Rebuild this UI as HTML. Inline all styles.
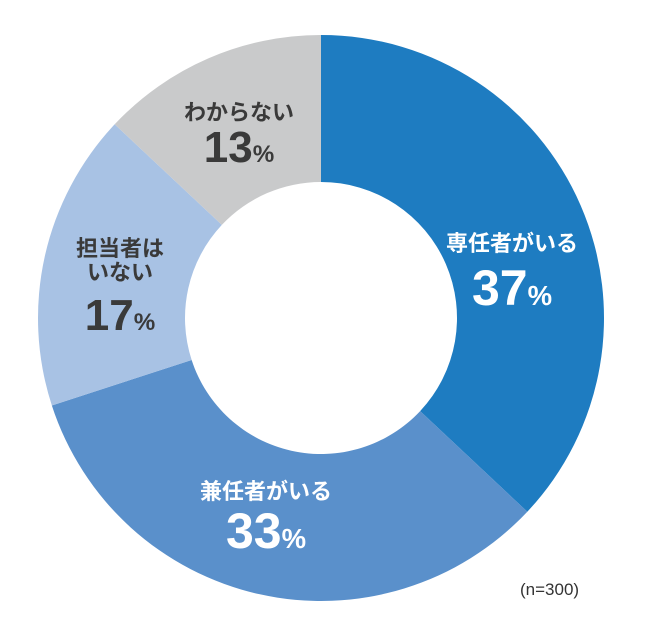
<!DOCTYPE html>
<html><head><meta charset="utf-8"><style>
body{margin:0;background:#fff;width:650px;height:635px;overflow:hidden}
text{font-family:"Liberation Sans","Noto Sans CJK JP",sans-serif;font-weight:bold}
</style></head><body>
<svg id="chart" width="650" height="635" viewBox="0 0 650 635"></svg>
<script>
const categories=["専任者がいる","兼任者がいる","担当者はいない","わからない"];
const values=[37,33,17,13];
const colors=["#1e7cc1","#5a90cb","#a8c2e4","#c9cacb"];
const cx=321,cy=318,R=283,r=136;
const svg=document.getElementById('chart');
const NS="http://www.w3.org/2000/svg";
const total=values.reduce((a,b)=>a+b,0);
function pt(a,rad){return [cx+rad*Math.sin(a),cy-rad*Math.cos(a)];}
let acc=0;
values.forEach((v,i)=>{
  const a0=acc/total*2*Math.PI;acc+=v;const a1=acc/total*2*Math.PI;
  const large=(a1-a0)>Math.PI?1:0;
  const p0=pt(a0,R),p1=pt(a1,R),q1=pt(a1,r),q0=pt(a0,r);
  const p=document.createElementNS(NS,'path');
  p.setAttribute('d',`M${p0[0]},${p0[1]}A${R},${R} 0 ${large} 1 ${p1[0]},${p1[1]}L${q1[0]},${q1[1]}A${r},${r} 0 ${large} 0 ${q0[0]},${q0[1]}Z`);
  p.setAttribute('fill',colors[i]);
  
  
  svg.appendChild(p);
});
function label(lines,x,ys,sizes,fill,name){
  const g=document.createElementNS(NS,'g');
  
  
  lines.forEach((t,j)=>{
    const e=document.createElementNS(NS,'text');
    e.setAttribute('x',x);e.setAttribute('y',ys[j]);
    e.setAttribute('text-anchor','middle');
    e.setAttribute('font-size',sizes[j]);
    e.setAttribute('fill',fill);
    if(typeof t==='object'){e.innerHTML=t.n+'<tspan font-size="'+(sizes[j]*0.55)+'">%</tspan>';}
    else e.textContent=t;
    g.appendChild(e);
  });
  svg.appendChild(g);
}
label(["専任者がいる",{n:values[0]}],512,[251,305],[22,50],"#fff","label-senninsha");
label(["兼任者がいる",{n:values[1]}],266,[499,548],[22,50],"#fff","label-kenninsha");
label(["担当者は","いない",{n:values[2]}],120,[256,280,330],[22,22,44],"#3a3a3a","label-tantousha-inai");
label(["わからない",{n:values[3]}],239,[120,162],[22,44],"#3a3a3a","label-wakaranai");
</script>
<div style="position:absolute;left:520px;top:580px;font:17px 'Liberation Sans',sans-serif;color:#333">(n=300)</div>
</body></html>
